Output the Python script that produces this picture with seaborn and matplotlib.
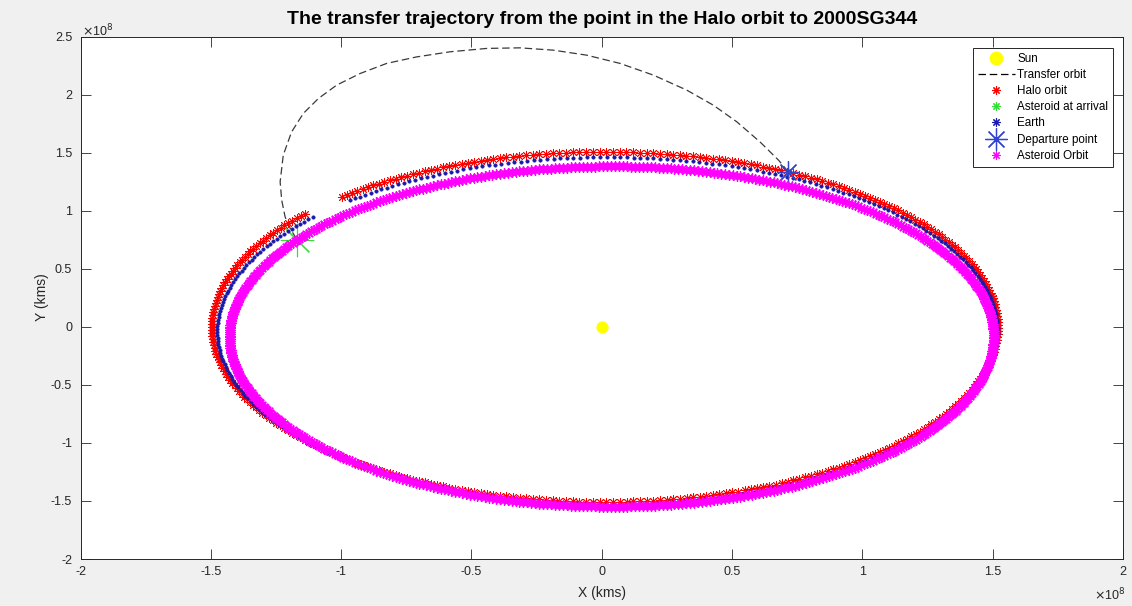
import numpy as np
import pandas as pd
import matplotlib
matplotlib.use("Agg")
import matplotlib.pyplot as plt
from matplotlib.lines import Line2D
import seaborn as sns

# All positions in units of 1e8 km (the axes carry the x10^8 factor)
sun_xy = (0.0, 0.0)

# Transfer trajectory, from the departure point over the top to the asteroid
transfer_x = [0.716, 0.678, 0.607, 0.518, 0.428, 0.326, 0.198, 0.070, -0.058,
              -0.186, -0.314, -0.441, -0.582, -0.710, -0.825, -0.927, -1.017,
              -1.087, -1.145, -1.190, -1.222, -1.234, -1.228, -1.215, -1.196,
              -1.169]
transfer_y = [1.336, 1.437, 1.594, 1.767, 1.910, 2.040, 2.169, 2.270, 2.341,
              2.384, 2.404, 2.399, 2.370, 2.326, 2.270, 2.183, 2.083, 1.968,
              1.839, 1.680, 1.480, 1.250, 1.092, 0.948, 0.851, 0.748]

departure_xy = (0.716, 1.336)
arrival_xy = (-1.169, 0.748)

# Orbit geometry: centre, radius, polar angle span (deg) and sample count
halo_center = (0.012, 0.0)
halo_radius = 1.508
halo_arc_deg = (132.0, -220.3)
halo_samples = 360

earth_center = (0.022, -0.035)
earth_radius = 1.497
earth_arc_deg = (131.3, -220.9)
earth_samples = 360

asteroid_center = (0.038, -0.083)
asteroid_radius = 1.466
asteroid_arc_deg = (0.0, 360.0)
asteroid_samples = 600

x_ticks = [-2, -1.5, -1, -0.5, 0, 0.5, 1, 1.5, 2]
y_ticks = [-2, -1.5, -1, -0.5, 0, 0.5, 1, 1.5, 2, 2.5]


def orbit_frame(center, radius, arc_deg, samples):
    th = np.deg2rad(np.linspace(arc_deg[0], arc_deg[1], samples))
    return pd.DataFrame({"x": center[0] + radius * np.cos(th),
                         "y": center[1] + radius * np.sin(th)})


sns.set_style("white")
plt.rcParams["font.family"] = ["Liberation Sans", "DejaVu Sans"]
plt.rcParams["lines.dashed_pattern"] = [6.0, 3.0]

TXT = "#262626"
ASTER = (8, 2, 0)

fig = plt.figure(figsize=(11.32, 6.06), dpi=100, facecolor="#f0f0f0")
ax = fig.add_axes([80.5 / 1132, 47 / 606, (1123 - 80.5) / 1132, (559 - 36.7) / 606])
ax.set_facecolor("white")

line_kw = dict(sort=False, estimator=None, ax=ax, legend=False)

# Sun
sns.lineplot(x=[sun_xy[0]], y=[sun_xy[1]], linestyle="", marker="o",
             markersize=8, color="#ffff00", markeredgecolor="#ffff00",
             zorder=3, **line_kw)

# Transfer orbit
sns.lineplot(x=transfer_x, y=transfer_y, color="#3a3a3a", linestyle="--",
             linewidth=0.9, zorder=3, **line_kw)

# Halo orbit
halo = orbit_frame(halo_center, halo_radius, halo_arc_deg, halo_samples)
sns.lineplot(data=halo, x="x", y="y", linestyle="", marker=ASTER,
             markersize=6.5, color="#ff0000", markeredgecolor="#ff0000",
             markeredgewidth=0.65, zorder=4, **line_kw)

# Asteroid at arrival
sns.lineplot(x=[arrival_xy[0]], y=[arrival_xy[1]], linestyle="", marker=ASTER,
             markersize=24, color="#33dd33", markeredgecolor="#33dd33",
             markeredgewidth=0.8, zorder=5, **line_kw)

# Earth
earth = orbit_frame(earth_center, earth_radius, earth_arc_deg, earth_samples)
sns.lineplot(data=earth, x="x", y="y", linestyle="", marker="o",
             markersize=2.4, color="#1a1aa8", markeredgecolor="#1a1aa8",
             markeredgewidth=0.5, zorder=5, **line_kw)

# Departure point
sns.lineplot(x=[departure_xy[0]], y=[departure_xy[1]], linestyle="",
             marker=ASTER, markersize=16, color="#3344cc",
             markeredgecolor="#3344cc", markeredgewidth=0.9, zorder=6,
             **line_kw)

# Asteroid orbit
ast = orbit_frame(asteroid_center, asteroid_radius, asteroid_arc_deg,
                  asteroid_samples)
sns.lineplot(data=ast, x="x", y="y", linestyle="", marker=ASTER,
             markersize=7.5, color="#ff00ff", markeredgecolor="#ff00ff",
             markeredgewidth=0.9, zorder=7, **line_kw)

ax.set_xlim(-2, 2)
ax.set_ylim(-2, 2.5)
ax.set_xticks(x_ticks)
ax.set_yticks(y_ticks)
ax.set_xticklabels([f"{v:g}" for v in x_ticks])
ax.set_yticklabels([f"{v:g}" for v in y_ticks])
ax.tick_params(direction="in", length=7, width=0.6, color=TXT,
               labelsize=9, labelcolor=TXT, top=True, right=True,
               bottom=True, left=True)
ax.tick_params(axis="x", pad=5)
ax.tick_params(axis="y", pad=6)
for sp in ax.spines.values():
    sp.set_visible(True)
    sp.set_color(TXT)
    sp.set_linewidth(0.7)
ax.grid(False)

ax.set_xlabel("")
ax.set_ylabel("")
fig.text(601.7 / 1132, 1 - 593 / 606, "X (kms)", ha="center", va="center",
         fontsize=10, color=TXT)
fig.text(42 / 1132, 1 - 297 / 606, "Y (kms)", ha="center", va="center",
         rotation=90, fontsize=10, color=TXT)
fig.text(601.7 / 1132, 1 - 19 / 606,
         "The transfer trajectory from the point in the Halo orbit to 2000SG344",
         ha="center", va="center", fontsize=14, fontweight="bold",
         color="black")

fig.text(82 / 1132, 1 - 31 / 606, r"$\times$10$^8$", ha="left", va="center",
         fontsize=9, color=TXT)
fig.text(1125 / 1132, 1 - 595 / 606, r"$\times$10$^8$", ha="right",
         va="center", fontsize=9, color=TXT)

handles = [
    Line2D([], [], linestyle="", marker="o", markersize=9, color="#ffff00"),
    Line2D([], [], linestyle="--", color="black", linewidth=0.9),
    Line2D([], [], linestyle="", marker=ASTER, markersize=6, color="#ff0000",
           markeredgewidth=0.8),
    Line2D([], [], linestyle="", marker=ASTER, markersize=6, color="#33dd33",
           markeredgewidth=0.8),
    Line2D([], [], linestyle="", marker=ASTER, markersize=6, color="#1a1aa8",
           markeredgewidth=0.8),
    Line2D([], [], linestyle="", marker=ASTER, markersize=16, color="#3344cc",
           markeredgewidth=0.9),
    Line2D([], [], linestyle="", marker=ASTER, markersize=6, color="#ff00ff",
           markeredgewidth=0.8),
]
labels = ["Sun", "Transfer orbit", "Halo orbit", "Asteroid at arrival",
          "Earth", "Departure point", "Asteroid Orbit"]
leg = ax.legend(handles, labels, loc="upper right",
                bbox_to_anchor=(1113 / 1132, 1 - 48 / 606),
                bbox_transform=fig.transFigure, borderaxespad=0,
                fontsize=8.4, handlelength=3.2, handletextpad=0.2,
                labelspacing=0.36, borderpad=0.4, fancybox=False,
                frameon=True, framealpha=1, edgecolor=TXT)
leg.get_frame().set_linewidth(0.7)
for t in leg.get_texts():
    t.set_color("black")

fig.savefig("out.png", dpi=100, facecolor=fig.get_facecolor())
